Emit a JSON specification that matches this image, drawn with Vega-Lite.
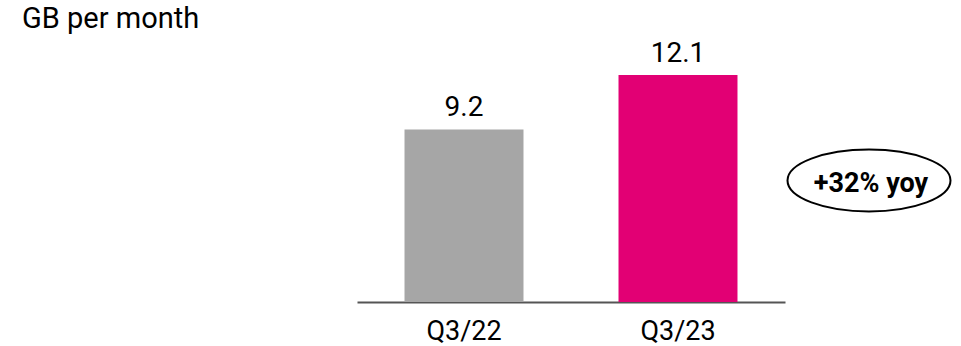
{
  "$schema": "https://vega.github.io/schema/vega-lite/v6.json",
  "autosize": "none",
  "width": 428,
  "height": 262,
  "padding": {"left": 357, "top": 40, "right": 176, "bottom": 44},
  "background": "white",
  "title": {"text": "GB per month", "anchor": "start", "frame": "group", "dx": -335, "dy": 28, "offset": 11, "baseline": "alphabetic", "font": "Roboto", "fontSize": 29, "fontWeight": "normal", "color": "#000000"},
  "config": {"view": {"stroke": null}, "font": "Roboto"},
  "data": {"values": [
    {"period": "Q3/22", "gb": 9.2, "label": "9.2"},
    {"period": "Q3/23", "gb": 12.1, "label": "12.1"}
  ]},
  "encoding": {
    "x": {"field": "period", "type": "nominal", "sort": null,
      "scale": {"paddingInner": 0.444, "paddingOuter": 0.222},
      "axis": {"title": null, "domain": true, "domainColor": "#555555", "domainWidth": 2, "ticks": false, "labelAngle": 0, "labelFont": "Roboto", "labelFontSize": 27, "labelColor": "#000000", "labelPadding": 37, "labelBaseline": "alphabetic"}},
    "y": {"field": "gb", "type": "quantitative", "scale": {"domain": [0, 13.97], "nice": false}, "axis": null}
  },
  "layer": [
    {"mark": {"type": "bar"},
     "encoding": {"color": {"field": "period", "type": "nominal", "scale": {"domain": ["Q3/22", "Q3/23"], "range": ["#a6a6a6", "#e20074"]}, "legend": null}}},
    {"mark": {"type": "text", "baseline": "alphabetic", "dy": -13, "fontSize": 28, "font": "Roboto", "color": "#000000"},
     "encoding": {"text": {"field": "label"}}},
    {"transform": [{"filter": "datum.period === 'Q3/23'"}],
     "mark": {"type": "point", "shape": "M -1 0 A 1 0.38 0 1 1 1 0 A 1 0.38 0 1 1 -1 0 Z", "size": 26569, "filled": false, "stroke": "#000000", "strokeWidth": 2, "opacity": 1, "xOffset": 191},
     "encoding": {"y": {"datum": 6.48}}},
    {"transform": [{"filter": "datum.period === 'Q3/23'"}],
     "mark": {"type": "text", "text": "+32% yoy", "fontWeight": "bold", "fontSize": 27, "font": "Roboto", "color": "#000000", "xOffset": 193, "baseline": "alphabetic", "dy": 11.5},
     "encoding": {"y": {"datum": 6.48}}}
  ]
}
